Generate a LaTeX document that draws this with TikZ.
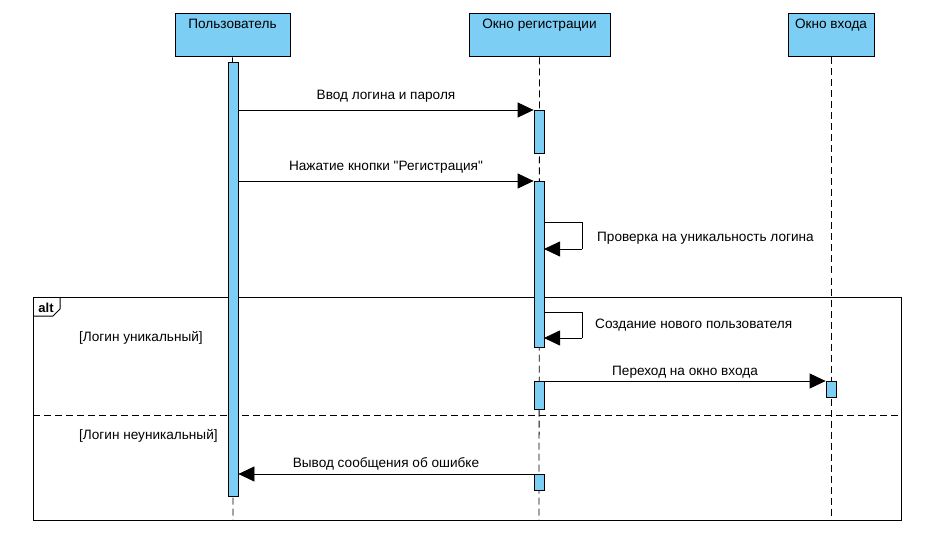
\documentclass[tikz,border=0pt]{standalone}
\usepackage{fontspec}
\setmainfont{Liberation Sans}[Ligatures=TeXOff]
\usetikzlibrary{arrows.meta}
\definecolor{actblue}{RGB}{125,206,245}
\tikzset{
  every node/.style={font=\fontsize{13.6}{16}\selectfont},
  head/.style={draw=black, fill=actblue, line width=1pt, minimum height=43pt, inner sep=0pt},
  headtxt/.style={anchor=north, inner sep=0pt, yshift=-5pt},
  act/.style={draw=black, fill=actblue, line width=0.8pt, minimum width=10pt, inner sep=0pt, anchor=north},
  life/.style={line width=0.8pt, dash pattern=on 7pt off 4pt},
  msg/.style={line width=0.8pt, -{Triangle[length=16pt,width=15pt]}},
  lbl/.style={inner sep=0pt, anchor=south},
  frm/.style={line width=1pt}
}
\begin{document}
\begin{tikzpicture}[x=1pt,y=-1pt]
\useasboundingbox (0,0) rectangle (939,545);
\fill[white] (0,0) rectangle (939,545);
% headers
\node[head, minimum width=115pt] (hU) at (232.5,35.5) {};
\node[head, minimum width=141pt] (hR) at (539.5,35.5) {};
\node[head, minimum width=86pt] (hL) at (831,35.5) {};
\node[headtxt] (tU) at (hU.north) {Пользователь};
\node[headtxt] (tR) at (hR.north) {Окно регистрации};
\node[headtxt] (tL) at (hL.north) {Окно входа};
% lifelines
\coordinate (eU) at (233,520);
\coordinate (eR) at (539,520);
\coordinate (eL) at (831,520);
\draw[life] (hU.south) -- (eU);
\draw[life] (hR.south) -- (eR);
\draw[life] (hL.south) -- (eL);
% alt frame
\coordinate (fTL) at (33,297);
\coordinate (fBR) at (901,520);
\draw[frm] (fTL) rectangle (fBR);
\coordinate (tab1) at (60,297);
\coordinate (tab2) at (60,309);
\coordinate (tab3) at (53,316);
\coordinate (tab4) at (33,316);
\draw[frm] (tab1) -- (tab2) -- (tab3) -- (tab4);
\node[inner sep=0pt, anchor=center, font=\fontsize{13}{15}\selectfont\bfseries] (alt) at (46,307.5) {alt};
\coordinate (sepL) at (33,415);
\coordinate (sepR) at (901,415);
\draw[life] (sepL) -- (sepR);
\node[inner sep=0pt, anchor=west] (g1) at (79,338) {[Логин уникальный]};
\node[inner sep=0pt, anchor=west] (g2) at (79,436) {[Логин неуникальный]};
% activation bars
\node[act, minimum height=434pt] (u1) at (233,62) {};
\node[act, minimum height=43pt] (r1) at (539,110) {};
\node[act, minimum height=166pt] (r2) at (539,181) {};
\node[act, minimum height=28pt] (r3) at (539,381) {};
\node[act, minimum height=16pt] (l1) at (831,381) {};
\node[act, minimum height=16pt] (r4) at (539,474) {};
% messages
\draw[msg] (u1.east |- r1.north) -- node[lbl, above=7pt] (m1) {Ввод логина и пароля} (r1.north west);
\draw[msg] (u1.east |- r2.north) -- node[lbl, above=7pt] (m2) {Нажатие кнопки "Регистрация"} (r2.north west);
\coordinate (s1a) at (544,222);
\coordinate (s1b) at (582,222);
\coordinate (s1c) at (582,249);
\coordinate (s1d) at (544,249);
\draw[line width=0.8pt] (s1a) -- (s1b) -- (s1c);
\draw[msg] (s1c) -- (s1d);
\node[inner sep=0pt, anchor=west] (m3) at (597,238) {Проверка на уникальность логина};
\coordinate (s2a) at (544,312);
\coordinate (s2b) at (582,312);
\coordinate (s2c) at (582,338);
\coordinate (s2d) at (544,338);
\draw[line width=0.8pt] (s2a) -- (s2b) -- (s2c);
\draw[msg] (s2c) -- (s2d);
\node[inner sep=0pt, anchor=west] (m4) at (595,325) {Создание нового пользователя};
\draw[msg] (r3.north east) -- node[lbl, above=2pt] (m5) {Переход на окно входа} (l1.north west);
\draw[msg] (r4.north west) -- node[lbl, above=3pt] (m6) {Вывод сообщения об ошибке} (u1.east |- r4.north);
\end{tikzpicture}
\end{document}
